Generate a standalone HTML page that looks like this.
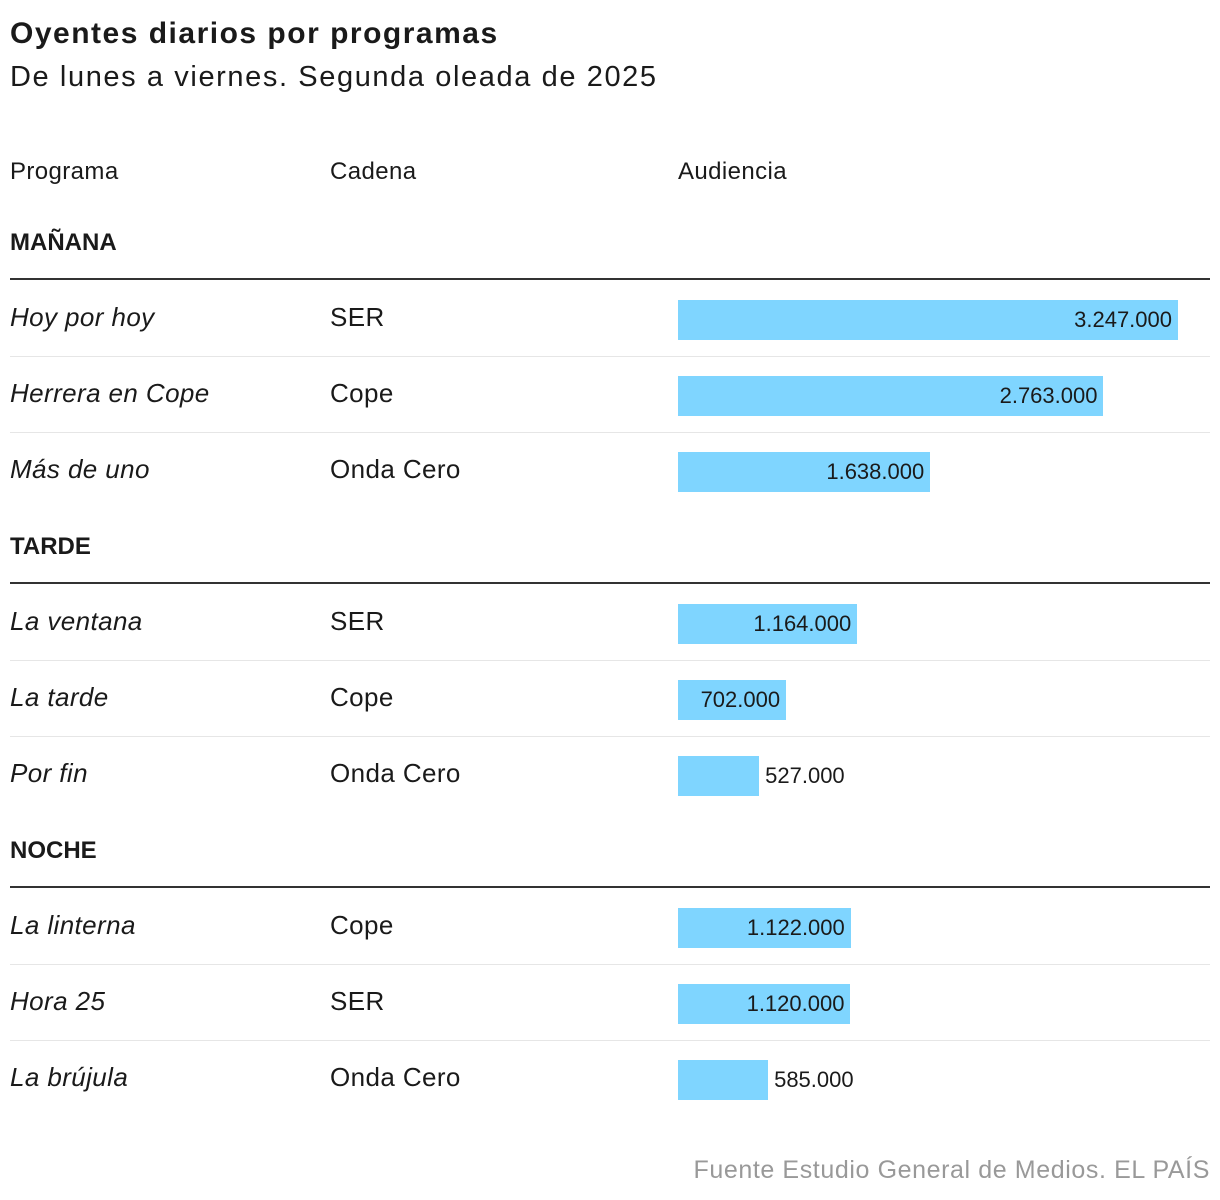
<!DOCTYPE html>
<html><head><meta charset="utf-8">
<style>
body{margin:0;background:#fff;font-family:"Liberation Sans",sans-serif;color:#1a1a1a;}
#wrap{position:relative;width:1220px;height:1200px;overflow:hidden;}
.t{position:absolute;white-space:nowrap;}
</style></head><body>
<div id="wrap">
<div class="t" style="left:10px;top:17px;font-size:30px;font-weight:bold;letter-spacing:1.5px;">Oyentes diarios por programas</div>
<div class="t" style="left:10px;top:61px;font-size:29px;letter-spacing:1.6px;">De lunes a viernes. Segunda oleada de 2025</div>
<div class="t" style="left:10px;top:158px;font-size:24px;letter-spacing:0.4px;">Programa</div>
<div class="t" style="left:330px;top:158px;font-size:24px;letter-spacing:0.4px;">Cadena</div>
<div class="t" style="left:678px;top:158px;font-size:24px;letter-spacing:0.4px;">Audiencia</div>
<div class="t" style="right:10px;top:1156px;font-size:25px;color:#999;letter-spacing:0.6px;">Fuente Estudio General de Medios. EL PAÍS</div>
</div>
<script>
const sections=["MAÑANA","TARDE","NOCHE"];
const programs=["Hoy por hoy","Herrera en Cope","Más de uno","La ventana","La tarde","Por fin","La linterna","Hora 25","La brújula"];
const stations=["SER","Cope","Onda Cero","SER","Cope","Onda Cero","Cope","SER","Onda Cero"];
const values=[3247000,2763000,1638000,1164000,702000,527000,1122000,1120000,585000];
const maxV=3247000,x0=678,barMax=500;
const xs=v=>v/maxV*barMax;
const fmt=v=>String(v).replace(/\B(?=(\d{3})+(?!\d))/g,".");
const W=document.getElementById('wrap');
function add(tag,css,txt){const e=document.createElement(tag);e.style.cssText=css;if(txt!==undefined)e.textContent=txt;W.appendChild(e);return e;}
sections.forEach((s,si)=>{
 const top=229+si*304;
 const l=add('div','position:absolute;left:10px;top:'+top+'px;font-size:24px;font-weight:bold;',s);l.className='t';
 
 
 const ln=add('div','position:absolute;left:10px;width:1200px;top:'+(top+49)+'px;height:2px;background:#333;');
 
 
 for(let r=0;r<3;r++){
  const i=si*3+r,rt=300+si*304+r*76;
  const p=add('div','position:absolute;left:10px;top:'+(rt+2)+'px;font-size:26px;font-style:italic;letter-spacing:0.4px;',programs[i]);p.className='t';
  
  
  const c=add('div','position:absolute;left:330px;top:'+(rt+2)+'px;font-size:26px;letter-spacing:0.4px;',stations[i]);c.className='t';
  
  
  const w=xs(values[i]);
  const b=add('div','position:absolute;left:'+x0+'px;top:'+rt+'px;width:'+w+'px;height:40px;background:#7fd5ff;');
  
  
  const inside=w>100;
  const v=add('div','position:absolute;top:'+(rt+7)+'px;font-size:22px;'+(inside?'left:'+(x0+w-6)+'px;transform:translateX(-100%);':'left:'+(x0+w+6)+'px;'),fmt(values[i]));v.className='t';
  
  
  if(r<2){const sp=add('div','position:absolute;left:10px;width:1200px;top:'+(rt+56)+'px;height:1px;background:#e6e6e6;');
   
   }
 }
});
</script>
</body></html>
